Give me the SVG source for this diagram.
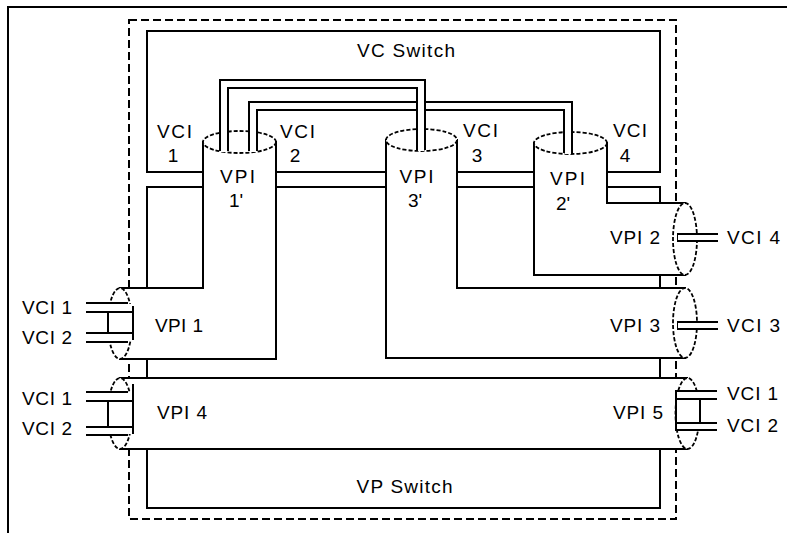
<svg xmlns="http://www.w3.org/2000/svg" width="787" height="533" viewBox="0 0 787 533">
<style>
.ln{fill:none;stroke:#000;stroke-width:2;stroke-linecap:square}
.dash{fill:none;stroke:#000;stroke-width:2;stroke-dasharray:8 4}
.body{fill:#fff;stroke:none}
.end{fill:#fff;stroke:#000;stroke-width:1.8;stroke-dasharray:4 2}
.wo{fill:none;stroke:#000;stroke-width:10}
.wi{fill:none;stroke:#fff;stroke-width:6}
.vo{fill:none;stroke:#000;stroke-width:9}
.vi{fill:none;stroke:#fff;stroke-width:5}
.wl{fill:none;stroke:#000;stroke-width:2}
.wb{fill:#fff;stroke:none}
text{font-family:"Liberation Sans",Arial,sans-serif;font-size:19px;fill:#000;text-anchor:middle}
</style>
<rect width="787" height="533" fill="#fff"/>
<rect x="8" y="7" width="800" height="560" fill="none" stroke="#000" stroke-width="2"/>

<g id="boundary"><rect class="dash" x="129" y="20" width="547" height="499"/></g>

<g id="vc-switch">
<path class="ln" d="M203,172 H147 V31 H660 V172 H607 M276,172 H386 M457,172 H534"/>
<text x="406" y="57" textLength="98" lengthAdjust="spacing">VC Switch</text>
</g>

<g id="vp-switch">
<path class="ln" d="M203,187 H147 V288 M276,187 H386 M457,187 H534 M607,187 H660 V203 M660,275 V288 M147,359 V378 M660,358 V378 M147,449 V508 H660 V449"/>
<text x="404.5" y="493" textLength="96" lengthAdjust="spacing">VP Switch</text>
</g>

<g id="vpi1">
<polygon class="body" points="203,142 276,142 276,359 120,359 120,288 203,288"/>
<path class="ln" d="M203,142 V288 H120 M276,142 V359 H120"/>
<ellipse class="end" cx="239.5" cy="142" rx="36.5" ry="11"/>
<ellipse class="end" cx="120" cy="323.5" rx="12" ry="35.5"/>
<text x="237.5" y="183" textLength="35" lengthAdjust="spacing">VPI</text>
<text x="236" y="207">1'</text>
<text x="179" y="332" textLength="48" lengthAdjust="spacing">VPI 1</text>
</g>

<g id="vpi3">
<polygon class="body" points="386,140 457,140 457,288 685,288 685,358 386,358"/>
<path class="ln" d="M386,140 V358 H685 M457,140 V288 H685"/>
<ellipse class="end" cx="421.5" cy="140" rx="35.5" ry="11"/>
<ellipse class="end" cx="685" cy="323" rx="12" ry="35"/>
<text x="416.5" y="183" textLength="34" lengthAdjust="spacing">VPI</text>
<text x="415" y="207">3'</text>
<text x="635" y="332" textLength="50" lengthAdjust="spacing">VPI 3</text>
</g>

<g id="vpi2">
<polygon class="body" points="534,143 607,143 607,203 685,203 685,275 534,275"/>
<path class="ln" d="M534,143 V275 H685 M607,143 V203 H685"/>
<ellipse class="end" cx="570.5" cy="143" rx="36.5" ry="11"/>
<ellipse class="end" cx="685" cy="239" rx="12" ry="36"/>
<text x="567.5" y="185" textLength="35" lengthAdjust="spacing">VPI</text>
<text x="563" y="210">2'</text>
<text x="635" y="244" textLength="50" lengthAdjust="spacing">VPI 2</text>
</g>

<g id="vpi4-5">
<rect class="body" x="120" y="378" width="567" height="71"/>
<path class="ln" d="M120,378 H687 M120,449 H687"/>
<ellipse class="end" cx="120" cy="413.5" rx="12" ry="35.5"/>
<ellipse class="end" cx="687.5" cy="413.5" rx="12" ry="35.5"/>
<text x="182" y="419" textLength="50" lengthAdjust="spacing">VPI 4</text>
<text x="638" y="419" textLength="50" lengthAdjust="spacing">VPI 5</text>
</g>

<g id="connectors">
<path class="wo" d="M253,151 V106 H568 V153"/>
<path class="wi" d="M253,152 V106 H568 V154"/>
<path class="wo" d="M224,151 V84 H421 V150"/>
<path class="wi" d="M224,152 V84 H421 V151"/>

<path class="vo" d="M677,237.5 H718"/>
<path class="vi" d="M678,237.5 H718"/>
<path class="vo" d="M677,325.5 H718"/>
<path class="vi" d="M678,325.5 H718"/>

<rect class="wb" x="107" y="304" width="26" height="37"/>
<path class="wl" d="M86,303 H128 M86,312 H133 M86,333 H133 M86,342 H128 M108,312 V333 M133,306 V340"/>

<rect class="wb" x="107" y="393" width="26" height="41"/>
<path class="wl" d="M86,392 H128 M86,401 H133 M86,427 H133 M86,435 H128 M108,401 V427 M133,384 V434"/>

<rect class="wb" x="676" y="391" width="24" height="39"/>
<path class="wl" d="M677,391 H717 M677,399 H717 M677,423 H717 M677,430 H717 M700,399 V423 M676,390 V431"/>
</g>

<g id="vci-labels">
<text x="174.5" y="138" textLength="35" lengthAdjust="spacing">VCI</text>
<text x="173" y="162">1</text>
<text x="297.5" y="138" textLength="35" lengthAdjust="spacing">VCI</text>
<text x="295" y="162">2</text>
<text x="480.5" y="137" textLength="35" lengthAdjust="spacing">VCI</text>
<text x="477" y="162">3</text>
<text x="630" y="137" textLength="34" lengthAdjust="spacing">VCI</text>
<text x="625" y="162">4</text>
<text x="753.5" y="244" textLength="53" lengthAdjust="spacing">VCI 4</text>
<text x="753.5" y="332" textLength="53" lengthAdjust="spacing">VCI 3</text>
<text x="47" y="314" textLength="50" lengthAdjust="spacing">VCI 1</text>
<text x="47" y="344" textLength="50" lengthAdjust="spacing">VCI 2</text>
<text x="47" y="405" textLength="50" lengthAdjust="spacing">VCI 1</text>
<text x="47" y="435" textLength="50" lengthAdjust="spacing">VCI 2</text>
<text x="752.5" y="400" textLength="51" lengthAdjust="spacing">VCI 1</text>
<text x="752.5" y="432" textLength="51" lengthAdjust="spacing">VCI 2</text>
</g>
</svg>
